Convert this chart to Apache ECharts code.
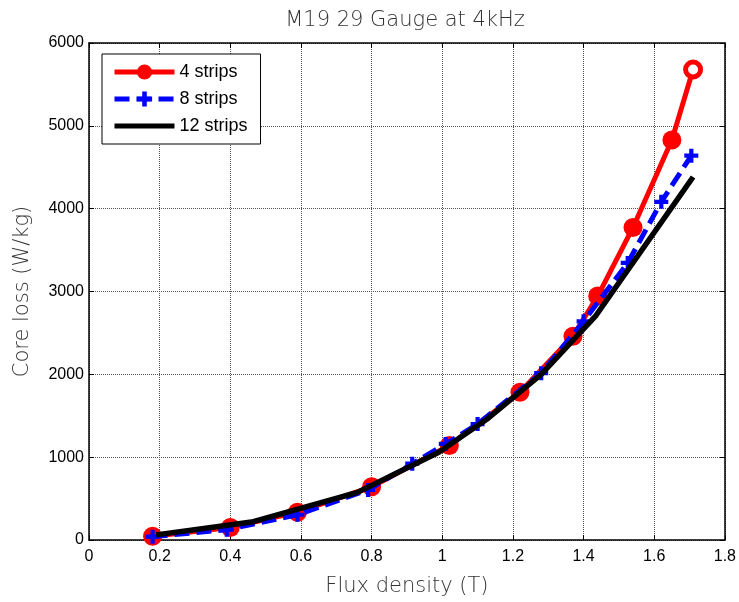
<!DOCTYPE html>
<html>
<head>
<meta charset="utf-8">
<script src="https://cdn.jsdelivr.net/npm/echarts@6/dist/echarts.min.js"></script>
<style>
html,body{margin:0;padding:0;background:#fff;}
#chart{width:739px;height:602px;}
</style>
</head>
<body>
<div id="chart"></div>
<script>
var titleText = 'M19 29 Gauge at 4kHz';
var xAxisName = 'Flux density (T)';
var yAxisName = 'Core loss (W/kg)';
var seriesNames = ['4 strips', '8 strips', '12 strips'];

var strips4X = [0.18, 0.40, 0.59, 0.80, 1.02, 1.22, 1.37, 1.44, 1.54, 1.65, 1.71];
var strips4Y = [45, 150, 336, 642, 1140, 1784, 2460, 2945, 3773, 4830, 5680];

var strips8X = [0.18, 0.39, 0.59, 0.79, 0.915, 1.01, 1.10, 1.28, 1.40, 1.525, 1.62, 1.705];
var strips8Y = [40, 125, 305, 605, 921, 1160, 1400, 2014, 2640, 3345, 4083, 4640];

var strips12X = [0.19, 0.46, 0.76, 0.99, 1.13, 1.28, 1.435, 1.71];
var strips12Y = [62, 217, 575, 1060, 1470, 2000, 2710, 4382];

function pairs(xs, ys){ return xs.map(function(x,i){ return [x, ys[i]]; }); }

var d4 = pairs(strips4X, strips4Y);
var d4data = d4.map(function(p, i){
  if (i === d4.length - 1) {
    return {value: p, itemStyle: {color: '#fff', borderColor: '#ff0000', borderWidth: 5}, symbolSize: 15};
  }
  return p;
});

var plusPath = 'path://M3.5,0 H6.5 V3.5 H10 V6.5 H6.5 V10 H3.5 V6.5 H0 V3.5 H3.5 Z';
var thinFont = 'DejaVu Sans';

var chart = echarts.init(document.getElementById('chart'), null, {renderer: 'canvas'});
var gridLine = {show: true, lineStyle: {color: '#555', type: [1, 1], width: 1}};
var option = {
  backgroundColor: '#fff',
  animation: false,
  title: {
    text: titleText, left: 405, top: 10, textAlign: 'center', padding: 0,
    textStyle: {fontFamily: thinFont, fontWeight: 200, fontSize: 21, color: '#333'}
  },
  legend: {
    orient: 'vertical', left: 102, top: 54,
    backgroundColor: '#fff', borderColor: '#000', borderWidth: 1,
    padding: [9, 13, 9, 10],
    itemWidth: 60, itemHeight: 19, itemGap: 9,
    lineStyle: {width: 5},
    textStyle: {fontFamily: 'Liberation Sans', fontSize: 18, color: '#000'},
    data: [
      {name: seriesNames[0]},
      {name: seriesNames[1]},
      {name: seriesNames[2], itemStyle: {opacity: 0}}
    ]
  },
  grid: {left: 89, right: 14, top: 43, bottom: 57, containLabel: false},
  xAxis: [{
    type: 'value', min: 0, max: 1.8, interval: 0.2,
    name: xAxisName, nameLocation: 'middle', nameGap: 36,
    nameTextStyle: {fontFamily: thinFont, fontWeight: 200, fontSize: 21, color: '#333'},
    axisLine: {show: true, lineStyle: {color: '#000', width: 1.5}},
    axisTick: {show: true, inside: true, length: 5, lineStyle: {color: '#000'}},
    axisLabel: {fontFamily: 'Liberation Sans', fontSize: 16, color: '#000', margin: 9},
    splitLine: gridLine
  }, {
    type: 'value', min: 0, max: 1.8, interval: 0.2, position: 'top',
    axisLine: {show: true, onZero: false, lineStyle: {color: '#000', width: 1.5}},
    axisTick: {show: true, inside: true, length: 5, lineStyle: {color: '#000'}},
    axisLabel: {show: false}, splitLine: {show: false}
  }],
  yAxis: [{
    type: 'value', min: 0, max: 6000, interval: 1000,
    name: yAxisName, nameLocation: 'middle', nameGap: 56,
    nameTextStyle: {fontFamily: thinFont, fontWeight: 200, fontSize: 21, color: '#333'},
    axisLine: {show: true, lineStyle: {color: '#000', width: 1.5}},
    axisTick: {show: true, inside: true, length: 5, lineStyle: {color: '#000'}},
    axisLabel: {fontFamily: 'Liberation Sans', fontSize: 16, color: '#000', margin: 5,
      formatter: function(v){ return String(v); }},
    splitLine: gridLine
  }, {
    type: 'value', min: 0, max: 6000, interval: 1000, position: 'right',
    axisLine: {show: true, onZero: false, lineStyle: {color: '#000', width: 1.5}},
    axisTick: {show: true, inside: true, length: 5, lineStyle: {color: '#000'}},
    axisLabel: {show: false}, splitLine: {show: false}
  }],
  series: [{
    name: seriesNames[0], type: 'line', data: d4data,
    symbol: 'circle', symbolSize: 19, showAllSymbol: true,
    lineStyle: {color: '#ff0000', width: 5},
    itemStyle: {color: '#ff0000'},
    z: 2
  }, {
    name: seriesNames[1], type: 'line', data: pairs(strips8X, strips8Y),
    symbol: plusPath, symbolSize: 14, showAllSymbol: true,
    lineStyle: {color: '#0000ff', width: 5, type: [15, 7]},
    itemStyle: {color: '#0000ff'},
    z: 3
  }, {
    name: seriesNames[2], type: 'line', data: pairs(strips12X, strips12Y),
    symbol: 'none',
    lineStyle: {color: '#000', width: 5.5},
    itemStyle: {color: '#000'},
    z: 4
  }]
};
chart.setOption(option);
</script>
</body>
</html>
